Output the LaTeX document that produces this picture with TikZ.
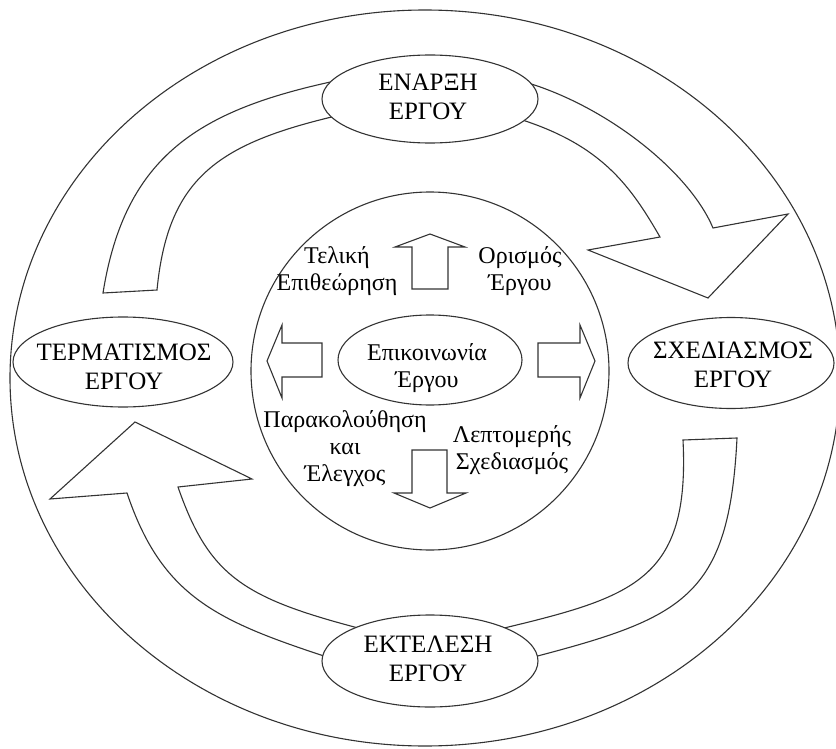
\documentclass[tikz,border=0pt]{standalone}
\usepackage{fontspec}
\setmainfont{Liberation Serif}
\usetikzlibrary{shapes.geometric}
\begin{document}
\begin{tikzpicture}[x=1pt,y=-1pt,
  line/.style={draw=black!80, line width=1.1pt},
  blockarrow/.style={line, fill=white, line join=miter},
  phase/.style={ellipse, line, fill=white, inner sep=0pt},
  caps/.style={align=center, inner sep=0pt, font=\fontsize{25}{29.5}\selectfont},
  note/.style={align=center, inner sep=0pt, font=\fontsize{24}{27}\selectfont}]
\useasboundingbox (0,0) rectangle (836,749);

% outer ring and inner circle
\node[ellipse, line, inner sep=0pt, minimum width=830, minimum height=736] (outer) at (425,378) {};
\node[circle, line, inner sep=0pt, minimum size=358] (inner) at (430,371) {};

% upper curved arrow: ΤΕΡΜΑΤΙΣΜΟΣ -> ΕΝΑΡΞΗ -> ΣΧΕΔΙΑΣΜΟΣ
\path[blockarrow] (103,293) .. controls (125,155) and (200,110) .. (335,81)
  -- (525,82) .. controls (609,107) and (690,173) .. (713,228)
  -- (788,214) -- (708,298) -- (588,250) -- (660,237)
  .. controls (630,185) and (601,144) .. (516,118)
  -- (340,115) .. controls (220,143) and (168,176) .. (157,290)
  -- cycle;

% lower curved arrow: ΣΧΕΔΙΑΣΜΟΣ -> ΕΚΤΕΛΕΣΗ -> ΤΕΡΜΑΤΙΣΜΟΣ
\path[blockarrow] (683,440) .. controls (690,580) and (634,597) .. (500,629)
  -- (362,629) .. controls (243,598) and (209,576) .. (178,487)
  -- (252,479) -- (135,422) -- (50,499) -- (127,493)
  .. controls (162,597) and (217,621) .. (330,658)
  -- (530,658) .. controls (683,618) and (729,598) .. (737,438)
  -- cycle;

% four small arrows around the centre
\path[blockarrow] (412,289) -- (412,247) -- (395,247) -- (430,234) -- (465,247) -- (448,247) -- (448,289) -- cycle;
\path[blockarrow] (412,450) -- (447,450) -- (447,493) -- (466,493) -- (430,508) -- (394,493) -- (412,493) -- cycle;
\path[blockarrow] (322,343) -- (282,343) -- (282,325) -- (267,361) -- (282,398) -- (282,377) -- (322,377) -- cycle;
\path[blockarrow] (538,343) -- (580,343) -- (580,325) -- (595,361) -- (580,398) -- (580,377) -- (538,377) -- cycle;

% phase ellipses
\node[phase, minimum width=216, minimum height=88] (enarxi) at (430,99) {};
\node[phase, minimum width=220, minimum height=90] (termatismos) at (123,362) {};
\node[phase, minimum width=206, minimum height=91] (sxediasmos) at (731,363) {};
\node[phase, minimum width=216, minimum height=92] (ektelesi) at (430,661) {};
\node[phase, minimum width=184, minimum height=90] (epikoinonia) at (430,360) {};

% phase labels
\node[caps] (enarxi-t) at (428,97) {ΕΝΑΡΞΗ\\ΕΡΓΟΥ};
\node[caps] (termatismos-t) at (124,367) {ΤΕΡΜΑΤΙΣΜΟΣ\\ΕΡΓΟΥ};
\node[caps] (sxediasmos-t) at (733,365) {ΣΧΕΔΙΑΣΜΟΣ\\ΕΡΓΟΥ};
\node[caps] (ektelesi-t) at (428,659) {ΕΚΤΕΛΕΣΗ\\ΕΡΓΟΥ};
\node[note] (epikoinonia-t) at (427,368) {Επικοινωνία\\Έργου};

% activity labels inside the circle
\node[note] (teliki) at (337,271) {Τελική\\Επιθεώρηση};
\node[note] (orismos) at (520,271) {Ορισμός\\Έργου};
\node[note] (parakolouthisi) at (345,449) {Παρακολούθηση\\και\\Έλεγχος};
\node[note] (leptomeris) at (512,450) {Λεπτομερής\\Σχεδιασμός};
\end{tikzpicture}
\end{document}
